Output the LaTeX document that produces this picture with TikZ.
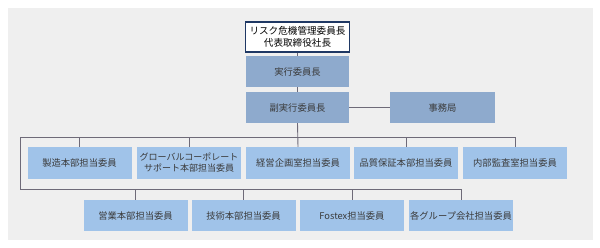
\documentclass[tikz,border=0pt]{standalone}
\usepackage{fontspec}
\newfontfamily\jp{Noto Sans CJK JP}
\definecolor{bgc}{HTML}{EFEFEF}
\definecolor{darkb}{HTML}{8EAACD}
\definecolor{lightb}{HTML}{A0C3E9}
\definecolor{linec}{HTML}{6E6A78}
\definecolor{navy}{HTML}{1F3864}
\definecolor{txt}{HTML}{3A3A3A}
\tikzset{
  base/.style={inner sep=1pt, align=center, font=\jp\fontsize{9.3}{11}\selectfont, text=txt},
  headbox/.style={base, fill=white, draw=navy, line width=1.1pt, minimum width=104pt, minimum height=30pt, text=black, font=\jp\fontsize{9.6}{11.5}\selectfont},
  execbox/.style={base, fill=darkb, minimum width=103pt, minimum height=31pt},
  membox/.style={base, fill=lightb, minimum width=104pt, minimum height=32pt},
  conn/.style={draw=linec, line width=0.9pt},
}
\begin{document}
\begin{tikzpicture}[x=1pt,y=-1pt]
\useasboundingbox (0,0) rectangle (600,248);
\fill[bgc] (8,8) rectangle (593,240);
% nodes
\node[headbox] (top) at (297.5,37) {リスク危機管理委員長\\代表取締役社長};
\node[execbox] (jikko) at (297.5,71.5) {実行委員長};
\node[execbox] (fuku) at (297.5,107.5) {副実行委員長};
\node[execbox, minimum width=105pt] (jimu) at (442.5,107.5) {事務局};
\node[membox] (r11) at (79.5,163) {製造本部担当委員};
\node[membox, font=\jp\fontsize{9}{11}\selectfont] (r12) at (189,163) {グローバルコーポレート\\サポート本部担当委員};
\node[membox] (r13) at (298,163) {経営企画室担当委員};
\node[membox] (r14) at (406,163) {品質保証本部担当委員};
\node[membox] (r15) at (515,163) {内部監査室担当委員};
\node[membox, minimum height=31pt] (r21) at (135.5,215.5) {営業本部担当委員};
\node[membox, minimum height=31pt] (r22) at (243.5,215.5) {技術本部担当委員};
\node[membox, minimum height=31pt] (r23) at (352,215.5) {Fostex担当委員};
\node[membox, minimum height=31pt] (r24) at (461,215.5) {各グループ会社担当委員};
% connectors
\coordinate (busL) at (20,137);
\coordinate (lowL) at (20,189);
\draw[conn] (top.south) -- (jikko.north);
\draw[conn] (jikko.south) -- (fuku.north);
\draw[conn] (fuku.east) -- (jimu.west);
\draw[conn] (fuku.south) -- (r13.north);
\draw[conn] (r15.north) |- (busL) -- (lowL) -| (r24.north);
\foreach \n in {r11,r12,r14}{\draw[conn] (\n.north) -- (\n.north |- busL);}
\foreach \n in {r21,r22,r23}{\draw[conn] (\n.north) -- (\n.north |- lowL);}
\end{tikzpicture}
\end{document}
